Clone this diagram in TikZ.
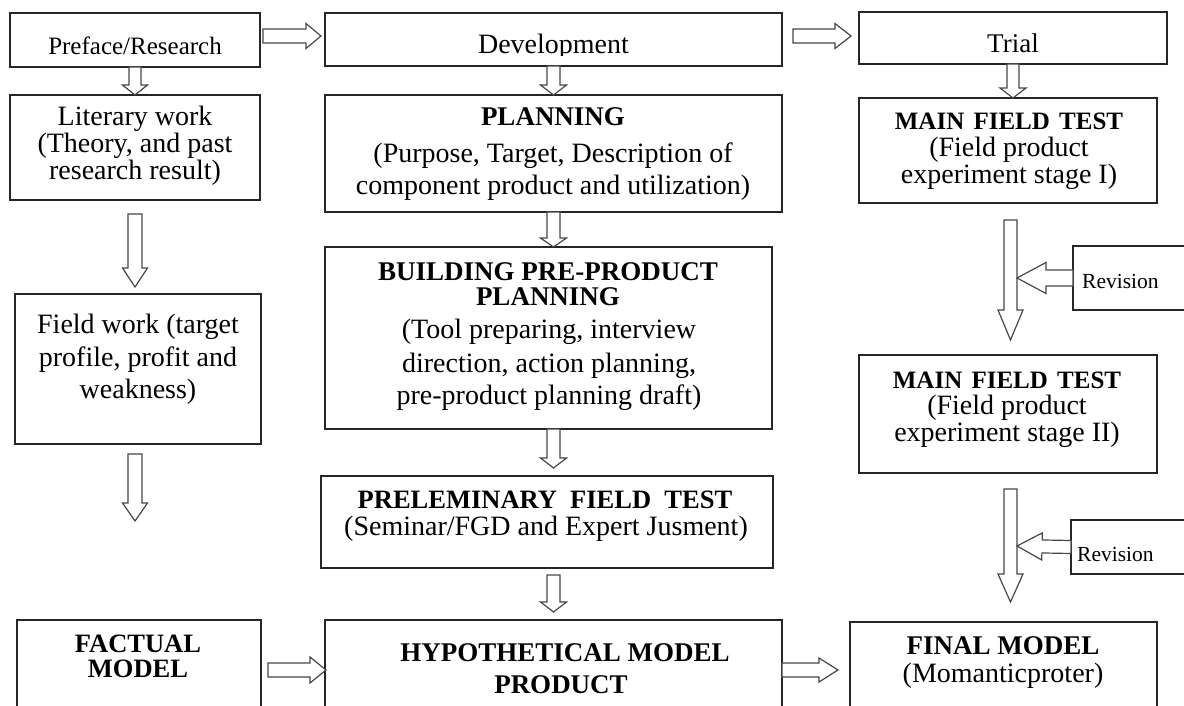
\documentclass[tikz,border=0pt]{standalone}
\usepackage{fontspec}
\setmainfont{Liberation Serif}
\usetikzlibrary{calc}
\tikzset{
  box/.style={draw=black!85, line width=1.4pt, fill=white, inner sep=0pt, outer sep=0pt},
  barr/.style={draw=black!72, line width=1.2pt, fill=white, line join=miter},
  txt/.style={anchor=base, inner sep=0pt, font=\fontsize{28}{30}\selectfont},
  btxt/.style={anchor=base, inner sep=0pt, font=\fontsize{27}{30}\selectfont\bfseries},
  rtxt/.style={anchor=base west, inner sep=0pt, font=\fontsize{21.5}{24}\selectfont},
  tight/.style={text height=18pt, text depth=5pt},
}
% #1 start, #2 tip, #3 half shaft, #4 half head, #5 head length
\newcommand\blockarrow[5]{%
  \coordinate (ba-h) at ($(#2)!#5pt!(#1)$);
  \draw[barr] ($(#1)!#3pt!90:(#2)$) -- ($(ba-h)!#3pt!90:(#2)$) -- ($(ba-h)!#4pt!90:(#2)$) -- (#2)
     -- ($(ba-h)!#4pt!-90:(#2)$) -- ($(ba-h)!#3pt!-90:(#2)$) -- ($(#1)!#3pt!-90:(#2)$) -- cycle;
}
\begin{document}
\begin{tikzpicture}[x=1pt,y=-1pt]
\useasboundingbox (0,0) rectangle (1184,706);
\clip (0,0) rectangle (1184,706);
\fill[white] (0,0) rectangle (1184,706);

% ---------- boxes ----------
\node[box, minimum width=250pt, minimum height=54pt]  (pref)   at (135,40) {};
\node[box, minimum width=250pt, minimum height=105pt] (lit)    at (135,147.5) {};
\node[box, minimum width=246pt, minimum height=150pt] (field)  at (138,369) {};
\node[box, minimum width=244pt, minimum height=110pt] (fact)   at (139,675) {};
\node[box, minimum width=457pt, minimum height=53pt]  (dev)    at (553.5,39.5) {};
\node[box, minimum width=457pt, minimum height=117pt] (plan)   at (553.5,153.5) {};
\node[box, minimum width=447pt, minimum height=182pt] (build)  at (548.5,338) {};
\node[box, minimum width=452pt, minimum height=92pt]  (prelim) at (547,522) {};
\node[box, minimum width=457pt, minimum height=110pt] (hypo)   at (553.5,675) {};
\node[box, minimum width=308pt, minimum height=52pt]  (trial)  at (1013,38) {};
\node[box, minimum width=298pt, minimum height=105pt] (mft1)   at (1008,150.5) {};
\node[box, minimum width=298pt, minimum height=118pt] (mft2)   at (1008,414) {};
\node[box, minimum width=307pt, minimum height=108pt] (final)  at (1003.5,676) {};
\node[box, minimum width=177pt, minimum height=64pt]  (rev1)   at (1161.5,278) {};
\node[box, minimum width=179pt, minimum height=54pt]  (rev2)   at (1160.5,547) {};

% ---------- arrow end points ----------
\coordinate (a2s) at ($(lit.south)+(0,14)$);
\coordinate (a2t) at ($(lit.south |- field.north)+(0,-7)$);
\coordinate (a3s) at ($(lit.south |- field.south)+(0,10)$);
\coordinate (a3t) at (135,521);
\coordinate (a5t) at (plan.south |- build.north);
\coordinate (a6s) at (plan.south |- build.south);
\coordinate (a6t) at ($(plan.south |- prelim.north)+(0,-8)$);
\coordinate (a7s) at ($(plan.south |- prelim.south)+(0,7)$);
\coordinate (a7t) at ($(hypo.north)+(0,-8)$);
\coordinate (a8t) at (trial.south |- mft1.north);
\coordinate (a9s) at ($(mft1.south)+(2.5,17)$);
\coordinate (a9t) at ($(mft1.south |- mft2.north)+(2.5,-15)$);
\coordinate (a10s) at ($(mft2.south)+(2.5,16)$);
\coordinate (a10t) at ($(mft2.south |- final.north)+(2.5,-20)$);
\coordinate (r1tip) at ($(a9s |- rev1.west)+(6.5,0)$);
\coordinate (r2tip) at ($(a10s |- rev2.west)+(6.5,-1)$);
\coordinate (a13s) at ($(pref.east)+(3,-4)$);
\coordinate (a13t) at ($(dev.west)+(-4,-3.5)$);
\coordinate (a14s) at ($(dev.east)+(11,-3.5)$);
\coordinate (a14t) at ($(trial.west)+(-8,-2)$);
\coordinate (a15s) at ($(fact.east)+(7,-5)$);
\coordinate (a15t) at ($(hypo.west)+(1,-5)$);
\coordinate (a16s) at ($(hypo.east)+(0,-5)$);
\coordinate (a16t) at ($(final.west)+(-12,-6)$);

% ---------- block arrows ----------
\blockarrow{pref.south}{lit.north}{6}{12.5}{10}
\blockarrow{a2s}{a2t}{7}{12.5}{19}
\blockarrow{a3s}{a3t}{7}{12.5}{18}
\blockarrow{dev.south}{plan.north}{6.5}{13}{10}
\blockarrow{plan.south}{a5t}{6.5}{13}{9}
\blockarrow{a6s}{a6t}{6.5}{13}{10}
\blockarrow{a7s}{a7t}{6.5}{13}{10}
\blockarrow{trial.south}{a8t}{6}{13}{10}
\blockarrow{a9s}{a9t}{6.5}{12.5}{30}
\blockarrow{a10s}{a10t}{6.5}{12.5}{28}
\blockarrow{rev1.west}{r1tip}{8}{15.5}{29}
\blockarrow{rev2.west}{r2tip}{6.5}{13.5}{25}
\blockarrow{a13s}{a13t}{7}{12.5}{15}
\blockarrow{a14s}{a14t}{7}{12.5}{16}
\blockarrow{a15s}{a15t}{7}{13}{16}
\blockarrow{a16s}{a16t}{7}{12}{19}

% ---------- texts ----------
\node[txt, font=\fontsize{25}{28}\selectfont] (preft) at (135,55) {Preface/Research};
\begin{scope}
  \clip (dev.north west) rectangle ($(dev.south east)+(0,-10.5)$);
  \node[txt] (devt) at (553.5,54) {Development};
\end{scope}
\node[txt, font=\fontsize{27}{30}\selectfont] (trialt) at (1013,53) {Trial};

\node[txt, tight] (lit1) at (135,126) {Literary work};
\node[txt, tight] (lit2) at (135,152.5) {(Theory, and past};
\node[txt, tight] (lit3) at (135,179) {research result)};

\node[txt] (fw1) at (138,333) {Field work (target};
\node[txt] (fw2) at (138,366) {profile, profit and};
\node[txt] (fw3) at (138,398) {weakness)};

\node[btxt, tight, font=\fontsize{26.5}{30}\selectfont\bfseries] (fa1) at (138,652) {FACTUAL};
\node[btxt, tight, font=\fontsize{26.5}{30}\selectfont\bfseries] (fa2) at (138,677) {MODEL};

\node[btxt] (pl1) at (553,126) {PLANNING};
\node[txt] (pl2) at (553,163) {(Purpose, Target, Description of};
\node[txt] (pl3) at (553,194) {component product and utilization)};

\node[btxt, tight] (bu1) at (548,280) {BUILDING PRE-PRODUCT};
\node[btxt, tight] (bu2) at (548,305) {PLANNING};
\node[txt] (bu3) at (549,338) {(Tool preparing, interview};
\node[txt] (bu4) at (549,372) {direction, action planning,};
\node[txt] (bu5) at (549,404) {pre-product planning draft)};

\node[btxt, tight, font=\fontsize{26.5}{30}\selectfont\bfseries] (pr1) at (545,508) {PRELEMINARY\hspace{0.25em} FIELD\hspace{0.25em} TEST};
\node[txt, tight] (pr2) at (546,535) {(Seminar/FGD and Expert Jusment)};

\node[btxt, tight] (hy1) at (565,661) {HYPOTHETICAL MODEL};
\node[btxt, tight] (hy2) at (561,693) {PRODUCT};

\node[btxt, tight, font=\fontsize{25}{28}\selectfont\bfseries] (m11) at (1009,130) {MAIN\hspace{0.12em} FIELD\hspace{0.12em} TEST};
\node[txt, tight] (m12) at (1009,157) {(Field product};
\node[txt, tight] (m13) at (1009,183.5) {experiment stage I)};

\node[btxt, tight, font=\fontsize{25}{28}\selectfont\bfseries] (m21) at (1007,388) {MAIN\hspace{0.12em} FIELD\hspace{0.12em} TEST};
\node[txt, tight] (m22) at (1007,414.5) {(Field product};
\node[txt, tight] (m23) at (1007,441.5) {experiment stage II)};

\node[rtxt] (rv1) at (1082,288) {Revision};
\node[rtxt] (rv2) at (1077,561) {Revision};

\node[btxt, tight] (fi1) at (1003,654) {FINAL MODEL};
\node[txt, tight] (fi2) at (1003,682) {(Momanticproter)};
\end{tikzpicture}
\end{document}
